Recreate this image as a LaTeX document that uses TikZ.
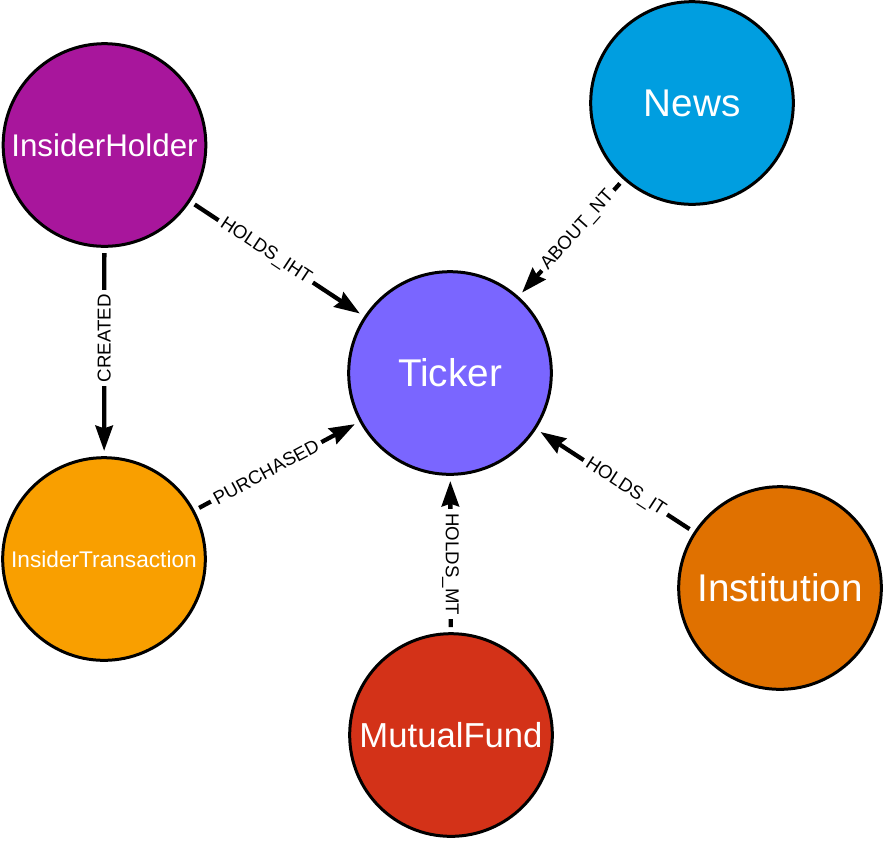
\documentclass[tikz,border=0pt]{standalone}
\usepackage{fontspec}
\setmainfont{Liberation Sans}
\usetikzlibrary{arrows.meta}
\definecolor{tickerfill}{HTML}{7A66FF}
\definecolor{newsfill}{HTML}{009EE0}
\definecolor{holderfill}{HTML}{A8169C}
\definecolor{transfill}{HTML}{F99F00}
\definecolor{fundfill}{HTML}{D33218}
\definecolor{instfill}{HTML}{E07100}

\begin{document}
\begin{tikzpicture}[>={Stealth[length=19pt, width=13pt, inset=2pt]}, x=0.75pt, y=-0.75pt,
	entity/.style={circle, draw=black, line width=2.25pt, minimum size=152pt, inner sep=0pt, outer sep=5pt, text=white},
	rel/.style={->, line width=3.2pt},
	rellabel/.style={fill=white, inner sep=3pt, pos=0.43, font=\fontsize{14}{17}\selectfont}]
	\useasboundingbox (0, 0) rectangle (884, 840);
	\node[entity, fill=tickerfill, font=\fontsize{29}{34}\selectfont] (ticker) at (450, 373) {Ticker};
	\node[entity, fill=newsfill, font=\fontsize{29}{34}\selectfont] (news) at (692, 103) {News};
	\node[entity, fill=holderfill, font=\fontsize{23.5}{28}\selectfont] (holder) at (104.5, 145) {InsiderHolder};
	\node[entity, fill=transfill, font=\fontsize{17}{20}\selectfont] (trans) at (104, 559) {InsiderTransaction};
	\node[entity, fill=fundfill, font=\fontsize{26}{30}\selectfont] (fund) at (451, 735) {MutualFund};
	\node[entity, fill=instfill, font=\fontsize{29}{34}\selectfont] (inst) at (780, 588) {Institution};
	\draw[rel] (holder) -- node[rellabel, sloped] {HOLDS\_IHT} (ticker);
	\draw[rel] (holder) -- node[rellabel, rotate=90] {CREATED} (trans);
	\draw[rel] (trans) -- node[rellabel, sloped] {PURCHASED} (ticker);
	\draw[rel] (news) -- node[rellabel, sloped] {ABOUT\_NT} (ticker);
	\draw[rel] (inst) -- node[rellabel, sloped] {HOLDS\_IT} (ticker);
	\draw[rel] (fund) -- node[rellabel, rotate=-90] {HOLDS\_MT} (ticker);
\end{tikzpicture}
\end{document}
